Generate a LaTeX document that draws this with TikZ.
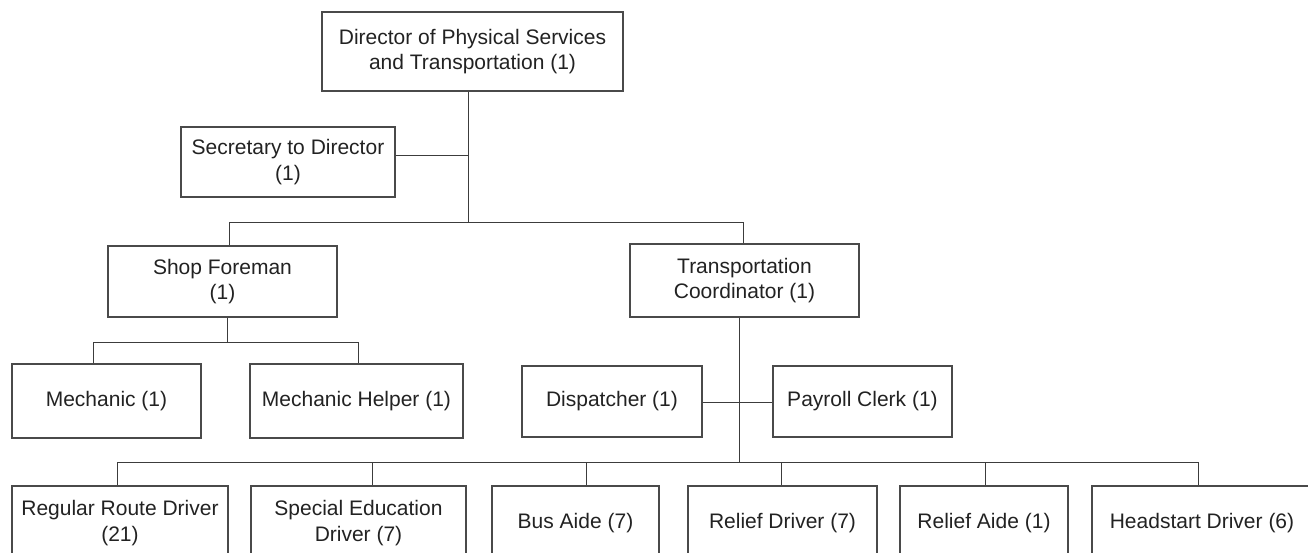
\documentclass[tikz,border=0pt]{standalone}
\usepackage{fontspec}
\setmainfont{Liberation Sans}
\definecolor{linec}{HTML}{3C3C3C}
\definecolor{boxc}{HTML}{4A4A4A}
\definecolor{textc}{HTML}{222222}
\newcommand{\chartfont}{\fontsize{21}{25.5}\selectfont}
\begin{document}
\begin{tikzpicture}[x=1pt,y=-1pt,
  box/.style={draw=boxc, line width=1.2pt, inner sep=0pt, align=center,
    font=\chartfont, text=textc},
  conn/.style={draw=linec, line width=1pt}]
\clip (0,0) rectangle (1308,552);
% boxes
\node[box, minimum width=301pt, minimum height=79pt] (dir) at (472.5,51.5) {Director of Physical Services\\and Transportation (1)};
\node[box, minimum width=214pt, minimum height=70pt] (sec) at (288,162) {Secretary to Director\\(1)};
\node[box, minimum width=229pt, minimum height=71pt] (fore) at (222.5,281.5) {Shop Foreman\\(1)};
\node[box, minimum width=229pt, minimum height=73pt] (coord) at (744.5,280.5) {Transportation\\Coordinator (1)};
\node[box, minimum width=189pt, minimum height=74pt] (mech) at (106.5,401) {Mechanic (1)};
\node[box, minimum width=213pt, minimum height=74pt] (mhelp) at (356.5,401) {Mechanic Helper (1)};
\node[box, minimum width=180pt, minimum height=71pt] (disp) at (612,401.5) {Dispatcher (1)};
\node[box, minimum width=179pt, minimum height=71pt] (pay) at (862.5,401.5) {Payroll Clerk (1)};
\node[box, minimum width=216pt, minimum height=74pt] (reg) at (120,523) {Regular Route Driver\\(21)};
\node[box, minimum width=215pt, minimum height=74pt] (spec) at (358.5,523) {Special Education\\Driver (7)};
\node[box, minimum width=167pt, minimum height=74pt] (bus) at (575.5,523) {Bus Aide (7)};
\node[box, minimum width=189pt, minimum height=74pt] (rdrv) at (782.5,523) {Relief Driver (7)};
\node[box, minimum width=168pt, minimum height=74pt] (raide) at (984,523) {Relief Aide (1)};
\node[box, minimum width=220pt, minimum height=74pt] (hs) at (1202,523) {Headstart Driver (6)};
% junction coordinates
\coordinate (jsec) at (468,155);
\coordinate (jtop) at (468,222);
\coordinate (b1L) at (229,222);
\coordinate (b1R) at (743,222);
\coordinate (b2C) at (227,342);
\coordinate (b2L) at (93,342);
\coordinate (b2R) at (358,342);
\coordinate (jd) at (739,402);
\coordinate (b3C) at (739,462);
\coordinate (d1) at (117,462);
\coordinate (d2) at (372,462);
\coordinate (d3) at (586,462);
\coordinate (d4) at (781,462);
\coordinate (d5) at (985,462);
\coordinate (d6) at (1198,462);
% connectors
\draw[conn] (jtop |- dir.south) -- (jtop);
\draw[conn] (sec.east |- jsec) -- (jsec);
\draw[conn] (b1L |- fore.north) -- (b1L) -- (b1R) -- (b1R |- coord.north);
\draw[conn] (b2C |- fore.south) -- (b2C);
\draw[conn] (b2L |- mech.north) -- (b2L) -- (b2R) -- (b2R |- mhelp.north);
\draw[conn] (b3C |- coord.south) -- (b3C);
\draw[conn] (disp.east |- jd) -- (pay.west |- jd);
\draw[conn] (d1) -- (d6);
\draw[conn] (d1) -- (d1 |- reg.north);
\draw[conn] (d2) -- (d2 |- spec.north);
\draw[conn] (d3) -- (d3 |- bus.north);
\draw[conn] (d4) -- (d4 |- rdrv.north);
\draw[conn] (d5) -- (d5 |- raide.north);
\draw[conn] (d6) -- (d6 |- hs.north);
\end{tikzpicture}
\end{document}
